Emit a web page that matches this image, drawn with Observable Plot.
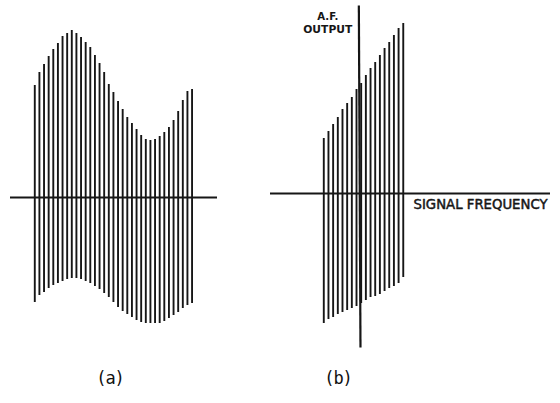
<!DOCTYPE html>
<html>
<head>
<meta charset="utf-8">
<script src="https://cdn.jsdelivr.net/npm/d3@7"></script>
<script src="https://cdn.jsdelivr.net/npm/@observablehq/plot@0.6"></script>
<style>
  html, body { margin: 0; padding: 0; background: #fff; }
  #fig { position: relative; width: 560px; height: 403px; overflow: hidden; }
  #fig svg { position: absolute; top: 0; }
  .cap { position: absolute; font-family: "DejaVu Sans Mono", monospace; font-size: 17px; letter-spacing: -1px; color: #111; transform: translateX(-50%); }
</style>
</head>
<body>
<div id="fig"></div>
<script>
// ---- Panel (a): envelope of the signal lines (height above / depth below the axis) ----
const topsA = [112,125,133,141,148,154,161,164,167,164,160,155,150,142,134,125,113,105,96,88,80,74,68,62,58,57,58,61,65,70,77,86,97,106,108];
const bottomsA = [105,98,95,91,88,86,84,82,81,81,82,84,86,89,92,96,100,105,110,114,117,120,123,125,126,126,126,126,124,121,118,115,111,108,106];

// ---- Panel (b): A.F. output lines vs signal frequency ----
const topsB = [55,62,69,76,84,90,96,104,110,118,125,131,138,145,151,158,165,170];
const bottomsB = [130,126,124,121,119,117,115,113,110,107,104,103,101,98,95,93,90,84];

// axis extents and labels
const axisA = [-5.25, 39.5];
const axisB = [-11.4, 48.5];
const outputAxisB = {x1: 7.5, x2: 7.85, top: 188, bottom: -154};
const outputLabel = {text: "A.F.\nOUTPUT", x: 0.85, y: 171.5};
const freqLabel = {text: "SIGNAL FREQUENCY", x: 19.2, y: -11};
const captions = ["(a)", "(b)"];

const ink = "#161616";

const linesA = topsA.map((t, i) => ({i, top: t, bottom: -bottomsA[i]}));
const linesB = topsB.map((t, i) => ({i, top: t, bottom: -bottomsB[i]}));

const H = 360;

const plotA = Plot.plot({
  width: 240, height: H,
  marginLeft: 10, marginRight: 23, marginTop: 0, marginBottom: 0,
  x: {domain: axisA, axis: null},
  y: {domain: [197 - H, 197], axis: null},
  marks: [
    Plot.ruleX(linesA, {x: "i", y1: "bottom", y2: "top", stroke: ink, strokeWidth: 1.9}),
    Plot.ruleY([0], {stroke: ink, strokeWidth: 1.8})
  ]
});

const plotB = Plot.plot({
  width: 320, height: H,
  marginLeft: 30, marginRight: 10, marginTop: 0, marginBottom: 0,
  x: {domain: axisB, axis: null},
  y: {domain: [193 - H, 193], axis: null},
  marks: [
    Plot.ruleX(linesB, {x: "i", y1: "bottom", y2: "top", stroke: ink, strokeWidth: 1.9}),
    Plot.ruleY([0], {stroke: ink, strokeWidth: 1.8}),
    Plot.link([outputAxisB], {x1: "x1", x2: "x2", y1: () => outputAxisB.top, y2: () => outputAxisB.bottom, stroke: ink, strokeWidth: 2.2}),
    Plot.text([outputLabel], {x: "x", y: "y", text: "text", fill: ink, fontSize: 11, lineHeight: 1.2, fontWeight: "bold",
      fontFamily: "DejaVu Sans Condensed, DejaVu Sans, sans-serif", textAnchor: "middle"}),
    Plot.text([freqLabel], {x: "x", y: "y", text: "text", fill: ink, stroke: ink, strokeWidth: 0.45, fontSize: 13.5,
      fontFamily: "DejaVu Sans Condensed, DejaVu Sans, sans-serif", textAnchor: "start"})
  ]
});

const fig = document.getElementById("fig");
plotA.style.left = "0px";
plotB.style.left = "240px";
fig.appendChild(plotA);
fig.appendChild(plotB);

// stretch label widths to match the drawing's lettering
const widths = {"SIGNAL FREQUENCY": 134, "OUTPUT": 49, "A.F.": 21};
d3.select(plotB).selectAll("text, tspan").each(function() {
  if (this.tagName === "text" && this.querySelector("tspan")) return;
  const w = widths[this.textContent];
  if (w) { this.setAttribute("textLength", w); this.setAttribute("lengthAdjust", "spacingAndGlyphs"); }
});

const capX = [110, 338];
captions.forEach((c, k) => {
  const d = document.createElement("div");
  d.className = "cap";
  d.textContent = c;
  d.style.left = capX[k] + "px";
  d.style.top = "368px";
  fig.appendChild(d);
});
</script>
</body>
</html>
